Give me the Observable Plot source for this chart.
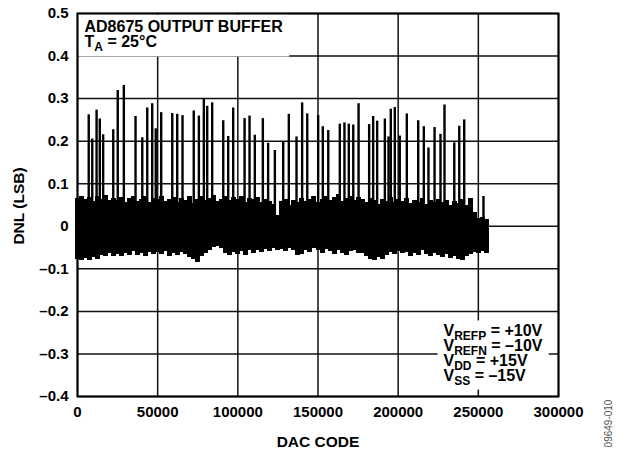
<!DOCTYPE html>
<html><head><meta charset="utf-8">
<script src="https://cdn.jsdelivr.net/npm/d3@7"></script>
<script src="https://cdn.jsdelivr.net/npm/@observablehq/plot@0.6"></script>
<style>
body{margin:0;background:#fff}
svg [aria-label*="axis"] text{font-size:15px;font-weight:bold;fill:#000}
</style>
</head><body>
<script>
const xTicks = [0, 50000, 100000, 150000, 200000, 250000, 300000];
const yTicks = [-0.4, -0.3, -0.2, -0.1, 0, 0.1, 0.2, 0.3, 0.4, 0.5];

// spikes: DAC code and DNL peak
const spikeCodes = [7000, 9200, 11900, 13900, 16000, 22300, 25100, 28900, 36200, 40400, 43500, 46600, 48800, 52200,
  59100, 62200, 65500, 72500, 75700, 78800, 80900, 84000, 90900, 94000, 97100, 104200, 107300, 110600, 115600, 118900,
  123100, 128300, 131800, 136600, 140100, 143300, 150100, 153000, 156400, 163600, 166500, 169200, 172000, 175300,
  181900, 184400, 186900, 191700, 194000, 195400, 197900, 201000, 205400, 212500, 216000, 218900, 222700, 226400,
  228900, 235000, 238100, 241200, 253200];
const spikePeaks = [0.262, 0.205, 0.273, 0.252, 0.215, 0.227, 0.319, 0.331, 0.258, 0.208, 0.278, 0.288, 0.229, 0.267,
  0.265, 0.263, 0.26, 0.271, 0.259, 0.298, 0.282, 0.29, 0.248, 0.211, 0.278, 0.253, 0.259, 0.214, 0.253, 0.195,
  0.178, 0.198, 0.263, 0.21, 0.29, 0.264, 0.26, 0.234, 0.225, 0.24, 0.243, 0.24, 0.238, 0.288,
  0.239, 0.258, 0.247, 0.252, 0.21, 0.275, 0.279, 0.212, 0.264, 0.248, 0.234, 0.184, 0.232, 0.216,
  0.285, 0.196, 0.235, 0.25, 0.07];

// noise band envelope, sampled every 2500 codes
const bandCodes = d3.range(0, 255001, 2500);
const bandHi = [0.066, 0.071, 0.062, 0.068, 0.058, 0.07, 0.064, 0.072, 0.06, 0.066, 0.061,
  0.068, 0.057, 0.065, 0.07, 0.059, 0.064, 0.069, 0.055, 0.066, 0.062,
  0.07, 0.058, 0.063, 0.067, 0.056, 0.065, 0.06, 0.071, 0.054, 0.064,
  0.069, 0.061, 0.066, 0.072, 0.058, 0.064, 0.07, 0.06, 0.067, 0.063,
  0.071, 0.057, 0.065, 0.062, 0.068, 0.055, 0.064, 0.059, 0.052, 0.025,
  0.058, 0.062, 0.05, 0.06, 0.055, 0.066, 0.059, 0.063, 0.069, 0.057,
  0.064, 0.07, 0.061, 0.067, 0.074, 0.058, 0.065, 0.071, 0.06, 0.068,
  0.063, 0.056, 0.066, 0.06, 0.052, 0.064, 0.058, 0.067, 0.055, 0.062,
  0.058, 0.065, 0.053, 0.061, 0.057, 0.066, 0.052, 0.06, 0.056, 0.063,
  0.055, 0.061, 0.05, 0.058, 0.054, 0.062, 0.049, 0.066,
  0.032, 0.018, 0.02, 0.016];
const bandLo = [-0.078, -0.081, -0.076, -0.08, -0.074, -0.079, -0.068, -0.072, -0.064, -0.07, -0.066,
  -0.071, -0.063, -0.068, -0.06, -0.069, -0.065, -0.072, -0.062, -0.067, -0.061,
  -0.066, -0.06, -0.072, -0.064, -0.069, -0.062, -0.066, -0.074, -0.078, -0.085,
  -0.07, -0.064, -0.058, -0.05, -0.047, -0.053, -0.064, -0.068, -0.062, -0.066,
  -0.06, -0.069, -0.058, -0.063, -0.056, -0.061, -0.054, -0.059, -0.052, -0.057,
  -0.055, -0.06, -0.053, -0.058, -0.069, -0.066, -0.056, -0.061, -0.052, -0.058,
  -0.063, -0.055, -0.06, -0.067, -0.058, -0.064, -0.069, -0.06, -0.057, -0.063,
  -0.064, -0.072, -0.078, -0.081, -0.074, -0.079, -0.068, -0.062, -0.066, -0.059,
  -0.065, -0.061, -0.07, -0.063, -0.068, -0.058, -0.066, -0.072, -0.064, -0.069,
  -0.074, -0.067, -0.076, -0.07, -0.078, -0.081, -0.072, -0.066,
  -0.062, -0.065, -0.06, -0.064];

const topLines = ["AD8675 OUTPUT BUFFER", "T_{A} = 25°C"];
const vLines = ["V_{REFP} = +10V", "V_{REFN} = \u201310V", "V_{DD} = +15V", "V_{SS} = \u201315V"];
const xTitle = "DAC CODE";
const yTitle = "DNL (LSB)";
const figId = "09649-010";

const band = bandCodes.map((c, i) => ({code: c, lo: bandLo[i], hi: bandHi[i]}));
const spikes = spikeCodes.map((c, i) => ({code: c, peak: spikePeaks[i]}));

const font = '"Liberation Sans", Arial, Helvetica, sans-serif';
const fmtY = d => d === 0 ? "0" : (d < 0 ? "\u2013" : "") + Math.abs(d).toFixed(1);

const svg = Plot.plot({
  width: 632, height: 454,
  marginLeft: 77, marginRight: 74, marginTop: 13, marginBottom: 58,
  style: {fontFamily: font, fontSize: "15px", fontWeight: "bold", color: "#000", background: "#fff", overflow: "visible"},
  x: {domain: [0, 300000], ticks: xTicks, tickSize: 0, tickPadding: 10, tickFormat: d => String(d), label: null},
  y: {domain: [-0.4, 0.5], ticks: yTicks, tickSize: 0, tickPadding: 9, tickFormat: fmtY, label: null},
  marks: [
    Plot.ruleX(xTicks, {stroke: "#111", strokeWidth: 1.5}),
    Plot.ruleY(yTicks, {stroke: "#111", strokeWidth: 1.5}),
    Plot.ruleX(band, {x: "code", y1: "lo", y2: "hi", stroke: "#000", strokeWidth: 5, shapeRendering: "crispEdges"}),
    Plot.ruleX(spikes, {x: "code", y1: 0, y2: "peak", stroke: "#000", strokeWidth: 2.4}),
    Plot.text([topLines[0]], {frameAnchor: "top-left", textAnchor: "start", lineAnchor: "bottom", dx: 7, dy: 18, fill: "#000", fontSize: 16}),
    Plot.text([topLines[1]], {frameAnchor: "top-left", textAnchor: "start", lineAnchor: "bottom", dx: 7, dy: 33, fill: "#000", fontSize: 16}),
    ...vLines.map((s, i) => Plot.text([s], {frameAnchor: "bottom-right", textAnchor: "start", lineAnchor: "bottom", dx: -115, dy: -(16 + (3 - i) * 14.7), fill: "#000", fontSize: 16})),
    Plot.text([xTitle], {frameAnchor: "bottom", textAnchor: "middle", lineAnchor: "middle", dy: 46, fill: "#000", fontSize: 15.5}),
    Plot.text([yTitle], {frameAnchor: "left", textAnchor: "middle", lineAnchor: "middle", rotate: -90, dx: -58, dy: 1, fill: "#000", fontSize: 15.5}),
    Plot.text([figId], {frameAnchor: "bottom-right", textAnchor: "middle", lineAnchor: "middle", rotate: -90, dx: 50, dy: 27, fill: "#555", fontSize: 10, fontWeight: "normal"}),
    Plot.frame({stroke: "#000", strokeWidth: 2})
  ]
});
document.body.appendChild(svg);

const ns = "http://www.w3.org/2000/svg";
const groups = {top: [], v: []};
svg.querySelectorAll("text").forEach(t => {
  const s = t.textContent;
  if (topLines.includes(s)) groups.top.push(t);
  if (vLines.includes(s)) groups.v.push(t);
  if (s.includes("_{")) {
    while (t.firstChild) t.removeChild(t.firstChild);
    let shifted = false;
    s.split(/(_\{[^}]*\})/).filter(p => p).forEach(p => {
      const m = p.match(/^_\{(.*)\}$/);
      const ts = document.createElementNS(ns, "tspan");
      if (m) {
        ts.textContent = m[1];
        ts.style.fontSize = "12px";
        if (!shifted) ts.setAttribute("dy", 4);
        shifted = true;
      } else {
        ts.textContent = p;
        if (shifted) { ts.setAttribute("dy", -4); shifted = false; }
      }
      t.appendChild(ts);
    });
  }
});

function backBox(list, padX, padY) {
  if (!list.length) return;
  const s = svg.getBoundingClientRect();
  let x0 = Infinity, y0 = Infinity, x1 = -Infinity, y1 = -Infinity;
  list.forEach(t => {
    const r = t.getBoundingClientRect();
    x0 = Math.min(x0, r.left - s.left); y0 = Math.min(y0, r.top - s.top);
    x1 = Math.max(x1, r.right - s.left); y1 = Math.max(y1, r.bottom - s.top);
  });
  const rect = document.createElementNS(ns, "rect");
  rect.setAttribute("x", x0 - padX); rect.setAttribute("y", y0 - padY);
  rect.setAttribute("width", x1 - x0 + 2 * padX); rect.setAttribute("height", y1 - y0 + 2 * padY);
  rect.setAttribute("fill", "#fff");
  let g = list[0];
  while (g.parentNode !== svg) g = g.parentNode;
  svg.insertBefore(rect, g);
}
backBox(groups.top, 6, 3);
backBox(groups.v, 6, 2);
</script>
</body></html>
